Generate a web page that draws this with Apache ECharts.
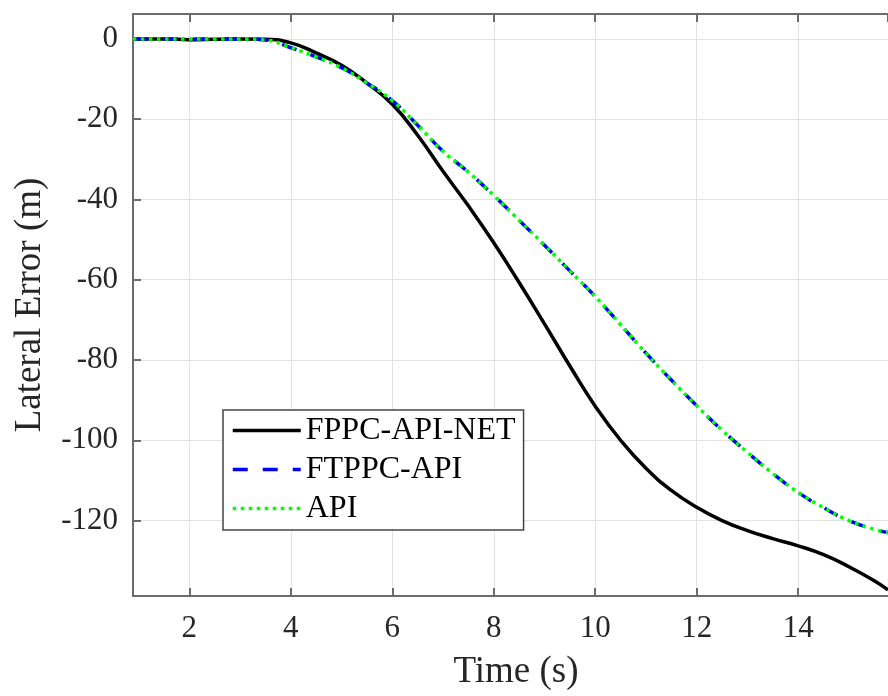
<!DOCTYPE html>
<html>
<head>
<meta charset="utf-8">
<script src="https://cdn.jsdelivr.net/npm/echarts@6/dist/echarts.min.js"></script>
<style>
html,body{margin:0;padding:0;background:#fff;}
#chart{width:888px;height:696px;}
</style>
</head>
<body>
<div id="chart"></div>
<script>
const timeS = [0.89, 1.5, 2, 2.5, 3, 3.5, 4, 4.5, 5, 5.5, 6, 6.5, 7, 7.5, 8, 8.5, 9, 9.5, 10, 10.5, 11, 11.5, 12, 12.5, 13, 13.5, 14, 14.5, 15, 15.5, 15.77];
const fppcApiNet = [0, 0, -0.2, -0.1, 0, -0.1, -1.0, -3.5, -6.6, -11, -16.3, -24, -33, -41.6, -50.8, -60.7, -71, -81.5, -91.5, -100, -107, -112.5, -116.7, -120, -122.5, -124.5, -126.3, -128.5, -131.5, -135, -137.3];
const ftppcApi = [0, 0, 0, 0, 0, -0.3, -2.2, -4.5, -7.2, -11, -15.4, -21.5, -28, -33.2, -39, -45.2, -51.4, -57.8, -64.2, -71.2, -78.3, -85, -91.4, -97.5, -103, -108.3, -113, -116.8, -120, -122.2, -123];
const apiVals = [0, 0, 0, 0, 0, -0.3, -2.2, -4.5, -7.2, -11, -15.4, -21.5, -28, -33.2, -39, -45.2, -51.4, -57.8, -64.2, -71.2, -78.3, -85, -91.4, -97.5, -103, -108.3, -113, -116.8, -120, -122.2, -123];
const seriesNames = ['FPPC-API-NET', 'FTPPC-API', 'API'];

const pairs = (xs, ys) => xs.map((x, i) => [x, ys[i]]);
const FONT = '"Liberation Serif", "Times New Roman", serif';
const axisLineStyle = {color: '#6b6b6b', width: 2};

const chart = echarts.init(document.getElementById('chart'));
chart.setOption({
  animation: false,
  backgroundColor: '#fff',
  grid: {left: 133, right: 0, top: 14, bottom: 95, containLabel: false},
  xAxis: [{
    type: 'value', min: 0.89, max: 15.77, splitNumber: 7,
    position: 'bottom',
    name: 'Time (s)', nameLocation: 'middle', nameGap: 58,
    nameTextStyle: {fontFamily: FONT, fontSize: 37, color: '#262626', padding: [0, 0, 0, 11]},
    axisLine: {show: true, lineStyle: axisLineStyle, onZero: false},
    axisTick: {show: true, inside: true, length: 8, lineStyle: axisLineStyle},
    axisLabel: {fontFamily: FONT, fontSize: 31, color: '#262626', margin: 17,
      showMinLabel: false, showMaxLabel: false,
      formatter: v => (Math.abs(v / 2 - Math.round(v / 2)) < 1e-6 ? String(Math.round(v)) : '')},
    splitLine: {show: true, lineStyle: {color: '#e2e2e2', width: 1}}
  }, {
    type: 'value', min: 0.89, max: 15.77, splitNumber: 7,
    position: 'top',
    axisLine: {show: true, lineStyle: axisLineStyle, onZero: false},
    axisTick: {show: true, inside: true, length: 8, lineStyle: axisLineStyle},
    axisLabel: {show: false},
    splitLine: {show: false}
  }],
  yAxis: {
    type: 'value', min: -138.8, max: 6.2, splitNumber: 7,
    name: 'Lateral Error (m)', nameLocation: 'middle', nameGap: 84, nameRotate: 90,
    nameTextStyle: {fontFamily: FONT, fontSize: 37, color: '#262626'},
    axisLine: {show: true, lineStyle: axisLineStyle, onZero: false},
    axisTick: {show: true, inside: true, length: 8, lineStyle: axisLineStyle},
    axisLabel: {fontFamily: FONT, fontSize: 31, color: '#262626', margin: 15,
      showMinLabel: false, showMaxLabel: false,
      formatter: v => (Math.abs(v / 20 - Math.round(v / 20)) < 1e-6 ? String(Math.round(v)) : '')},
    splitLine: {show: true, lineStyle: {color: '#e2e2e2', width: 1}}
  },
  legend: {
    show: true, orient: 'vertical', left: 223, top: 410,
    data: seriesNames,
    itemWidth: 68, itemHeight: 14, itemGap: 0,
    padding: [1, 8, 2, 8],
    itemStyle: {opacity: 0},
    lineStyle: {width: 3.5},
    backgroundColor: '#fff', borderColor: '#444', borderWidth: 1.5, borderRadius: 0,
    textStyle: {fontFamily: FONT, fontSize: 32, color: '#000', lineHeight: 39}
  },
  series: [{
    name: seriesNames[0], type: 'line', smooth: true, showSymbol: false, symbol: 'none',
    data: pairs(timeS, fppcApiNet), z: 2,
    lineStyle: {color: '#000', width: 3.5, type: 'solid'},
    itemStyle: {color: '#000'}
  }, {
    name: seriesNames[1], type: 'line', smooth: true, showSymbol: false, symbol: 'none',
    data: pairs(timeS, ftppcApi), z: 3,
    lineStyle: {color: '#0000ff', width: 3.5, type: [15, 15], cap: 'butt'},
    itemStyle: {color: '#0000ff'}
  }, {
    name: seriesNames[2], type: 'line', smooth: true, showSymbol: false, symbol: 'none',
    data: pairs(timeS, apiVals), z: 4,
    lineStyle: {color: '#00ff00', width: 3.5, type: [3.5, 4.5], cap: 'butt'},
    itemStyle: {color: '#00ff00'}
  }]
});
</script>
</body>
</html>
